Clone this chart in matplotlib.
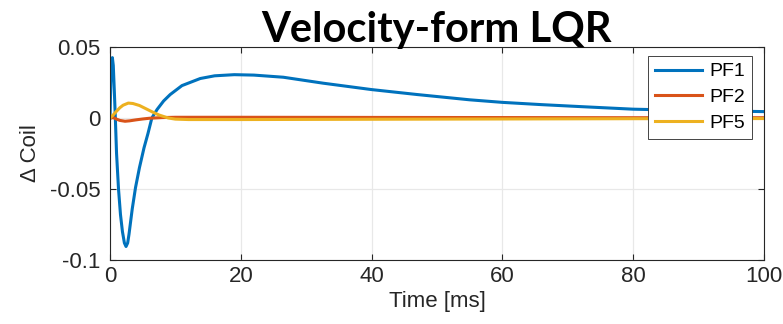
import matplotlib.pyplot as plt

plt.rcParams['axes.unicode_minus'] = False
plt.rcParams['font.family'] = ['Liberation Sans', 'DejaVu Sans']

# Coil current deviation per PF coil (time in ms)
t_pf1 = [0, 0.12, 0.25, 0.36, 0.5, 0.65, 0.8, 1.0, 1.3, 1.6, 1.9, 2.2, 2.45,
         2.7, 2.9, 3.4, 3.9, 4.5, 5.2, 5.8, 6.4, 7.2, 8.2, 9.2, 11, 13.8, 16,
         19, 22, 26.5, 32.6, 40, 47, 55, 60, 66, 72, 80, 90, 100]
pf1 = [0, 0.025, 0.040, 0.0425, 0.037, 0.02, 0.002, -0.025, -0.05, -0.068,
       -0.08, -0.088, -0.0905, -0.088, -0.082, -0.064, -0.049, -0.035, -0.021,
       -0.011, 0.0, 0.006, 0.012, 0.0165, 0.0228, 0.0278, 0.0297, 0.0305,
       0.0302, 0.0287, 0.0245, 0.0200, 0.0165, 0.0128, 0.011, 0.0094, 0.008,
       0.0062, 0.0052, 0.0045]

t_pf2 = [0, 0.5, 1.0, 1.5, 2.3, 3.0, 4.0, 5.0, 6.0, 8.0, 10, 20, 40, 60, 80, 100]
pf2 = [0, 0.0003, -0.0008, -0.0017, -0.0023, -0.002, -0.0013, -0.0007,
       -0.0002, 0.0003, 0.0005, 0.0005, 0.0004, 0.0003, 0.0002, 0.0002]

t_pf5 = [0, 0.5, 1.0, 1.5, 2.0, 2.8, 3.5, 4.5, 5.5, 6.5, 7.5, 8.9, 10, 12, 20,
         30, 40, 60, 80, 100]
pf5 = [0, 0.0022, 0.0048, 0.0072, 0.009, 0.0105, 0.0102, 0.0088, 0.0065,
       0.0042, 0.0021, 0.0, -0.0008, -0.0011, -0.0011, -0.001, -0.0009,
       -0.0007, -0.0005, -0.0004]

fig = plt.figure(figsize=(7.83, 3.24), dpi=100)
ax = fig.add_axes([0.1405, 0.1975, 0.8352, 0.6575])

ax.plot(t_pf1, pf1, color='#0072BD', lw=2.2, label='PF1')
ax.plot(t_pf2, pf2, color='#D95319', lw=2.2, label='PF2')
ax.plot(t_pf5, pf5, color='#EDB120', lw=2.2, label='PF5')

ax.set_xlim(0, 100)
ax.set_ylim(-0.1, 0.05)
ax.set_xticks([0, 20, 40, 60, 80, 100])
ax.set_yticks([-0.1, -0.05, 0, 0.05])
ax.set_yticklabels(['-0.1', '-0.05', '0', '0.05'])
ax.grid(True, color='#e8e8e8', lw=0.9)
ax.set_axisbelow(True)
ax.tick_params(direction='in', length=4, colors='#262626', labelsize=16,
               top=True, right=True)
ax.tick_params(axis='x', pad=4)
ax.tick_params(axis='y', pad=7)
for s in ax.spines.values():
    s.set_color('#262626')
    s.set_linewidth(0.8)

ax.set_xlabel('Time [ms]', fontsize=16, color='#262626', labelpad=3)
ax.set_ylabel('Δ Coil', fontsize=16, color='#262626', labelpad=6)

leg = ax.legend(loc='upper right', fontsize=14, frameon=True, fancybox=False,
                framealpha=1, handlelength=2.4, handletextpad=0.4,
                borderpad=0.35, labelspacing=0.42, borderaxespad=0,
                bbox_to_anchor=(0.9817, 0.958))
leg.get_frame().set_edgecolor('#262626')
leg.get_frame().set_linewidth(0.6)

fig.text(0.5575, 0.870, 'Velocity-form LQR', ha='center', va='baseline',
         fontsize=30, fontweight='bold', family=['Lato', 'DejaVu Sans'],
         zorder=5)

fig.savefig('out.png', dpi=100)
